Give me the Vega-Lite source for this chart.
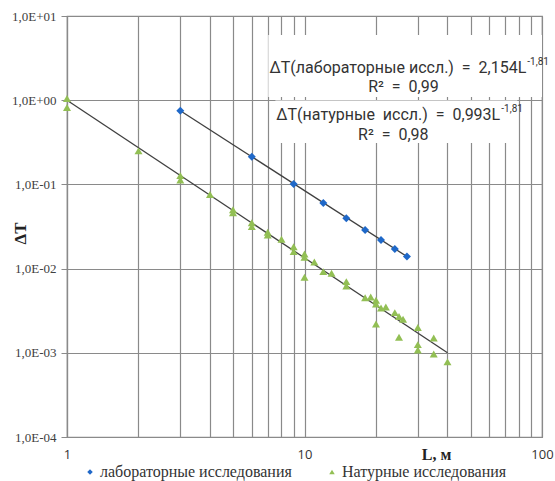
{
  "$schema": "https://vega.github.io/schema/vega-lite/v6.json",
  "width": 475,
  "height": 421,
  "autosize": {"type": "none"},
  "padding": {"left": 67, "top": 16, "right": 13, "bottom": 44},
  "background": "white",
  "config": {
    "view": {"stroke": "#8a8a8a", "strokeWidth": 1.2},
    "axis": {"gridColor": "#8a8a8a", "gridWidth": 1.2, "gridOpacity": 1, "domainColor": "#8a8a8a", "domainWidth": 1.2, "tickColor": "#8a8a8a"},
    "legend": {"labelFont": "Liberation Serif", "labelFontSize": 16, "labelColor": "#333333", "labelLimit": 0}
  },
  "datasets": {
    "pts": [
      {"L": 3, "dT": 0.75, "series": "лабораторные исследования"},
      {"L": 6, "dT": 0.213, "series": "лабораторные исследования"},
      {"L": 9, "dT": 0.101, "series": "лабораторные исследования"},
      {"L": 12, "dT": 0.06, "series": "лабораторные исследования"},
      {"L": 15, "dT": 0.0395, "series": "лабораторные исследования"},
      {"L": 18, "dT": 0.0287, "series": "лабораторные исследования"},
      {"L": 21, "dT": 0.0219, "series": "лабораторные исследования"},
      {"L": 24, "dT": 0.0171, "series": "лабораторные исследования"},
      {"L": 27, "dT": 0.0139, "series": "лабораторные исследования"},
      {"L": 1, "dT": 1.05, "series": "Натурные исследования"},
      {"L": 1, "dT": 0.82, "series": "Натурные исследования"},
      {"L": 2, "dT": 0.25, "series": "Натурные исследования"},
      {"L": 3, "dT": 0.127, "series": "Натурные исследования"},
      {"L": 3, "dT": 0.113, "series": "Натурные исследования"},
      {"L": 4, "dT": 0.076, "series": "Натурные исследования"},
      {"L": 5, "dT": 0.05, "series": "Натурные исследования"},
      {"L": 5, "dT": 0.046, "series": "Натурные исследования"},
      {"L": 6, "dT": 0.035, "series": "Натурные исследования"},
      {"L": 6, "dT": 0.0315, "series": "Натурные исследования"},
      {"L": 7, "dT": 0.027, "series": "Натурные исследования"},
      {"L": 7, "dT": 0.025, "series": "Натурные исследования"},
      {"L": 8, "dT": 0.0223, "series": "Натурные исследования"},
      {"L": 9, "dT": 0.0182, "series": "Натурные исследования"},
      {"L": 9, "dT": 0.0159, "series": "Натурные исследования"},
      {"L": 10, "dT": 0.0149, "series": "Натурные исследования"},
      {"L": 10, "dT": 0.0136, "series": "Натурные исследования"},
      {"L": 10, "dT": 0.0079, "series": "Натурные исследования"},
      {"L": 11, "dT": 0.012, "series": "Натурные исследования"},
      {"L": 12, "dT": 0.0092, "series": "Натурные исследования"},
      {"L": 13, "dT": 0.0088, "series": "Натурные исследования"},
      {"L": 15, "dT": 0.007, "series": "Натурные исследования"},
      {"L": 15, "dT": 0.0062, "series": "Натурные исследования"},
      {"L": 18, "dT": 0.0045, "series": "Натурные исследования"},
      {"L": 19, "dT": 0.0046, "series": "Натурные исследования"},
      {"L": 20, "dT": 0.0042, "series": "Натурные исследования"},
      {"L": 20, "dT": 0.0038, "series": "Натурные исследования"},
      {"L": 20, "dT": 0.0022, "series": "Натурные исследования"},
      {"L": 21, "dT": 0.0034, "series": "Натурные исследования"},
      {"L": 22, "dT": 0.0035, "series": "Натурные исследования"},
      {"L": 24, "dT": 0.003, "series": "Натурные исследования"},
      {"L": 25, "dT": 0.0027, "series": "Натурные исследования"},
      {"L": 25, "dT": 0.00153, "series": "Натурные исследования"},
      {"L": 26, "dT": 0.0025, "series": "Натурные исследования"},
      {"L": 30, "dT": 0.002, "series": "Натурные исследования"},
      {"L": 30, "dT": 0.00125, "series": "Натурные исследования"},
      {"L": 30, "dT": 0.00108, "series": "Натурные исследования"},
      {"L": 35, "dT": 0.0015, "series": "Натурные исследования"},
      {"L": 35, "dT": 0.00097, "series": "Натурные исследования"},
      {"L": 40, "dT": 0.00078, "series": "Натурные исследования"}
    ],
    "fit": [
      {"L": 3, "dT": 0.75, "series": "lab"},
      {"L": 27, "dT": 0.0139, "series": "lab"},
      {"L": 1, "dT": 1.0, "series": "nat"},
      {"L": 40, "dT": 0.001, "series": "nat"}
    ],
    "boxes": [
      {"L": 7.04, "L2": 100, "dT": 5.95, "dT2": 1.09},
      {"L": 7.54, "L2": 78.7, "dT": 0.992, "dT2": 0.31}
    ],
    "eq": [
      {"L": 85.9, "dT": 2.41, "label": "ΔT(лабораторные иссл.) \u00a0=\u00a0 2,154L"},
      {"L": 66.7, "dT": 0.667, "label": "ΔT(натурные \u00a0иссл.) \u00a0=\u00a0 0,993L"}
    ],
    "sup": [
      {"L": 86.7, "dT": 2.84, "label": "-1,81"},
      {"L": 67.4, "dT": 0.786, "label": "-1,81"}
    ],
    "r2": [
      {"L": 26.1, "dT": 1.435, "label": "R² \u00a0=\u00a0 0,99"},
      {"L": 23.66, "dT": 0.386, "label": "R² \u00a0=\u00a0 0,98"}
    ]
  },
  "encoding": {
    "x": {
      "field": "L", "type": "quantitative",
      "scale": {"type": "log", "domain": [1, 100], "nice": false},
      "axis": {
        "values": [1, 2, 3, 4, 5, 6, 7, 8, 9, 10, 20, 30, 40, 50, 60, 70, 80, 90, 100],
        "labelExpr": "datum.value == 1 || datum.value == 10 || datum.value == 100 ? toString(datum.value) : ''",
        "labelOverlap": false, "labelFlush": false, "labelBound": false,
        "ticks": false, "labelPadding": 11,
        "labelFont": "Open Sans", "labelFontSize": 13, "labelColor": "#333333",
        "title": "L, м", "titleFont": "Liberation Serif", "titleFontSize": 16, "titleFontWeight": "bold", "titleColor": "#222222",
        "titleX": 369, "titleY": 17, "titleAlign": "center", "titleBaseline": "middle"
      }
    },
    "y": {
      "field": "dT", "type": "quantitative",
      "scale": {"type": "log", "domain": [0.0001, 10], "nice": false},
      "axis": {
        "values": [0.0001, 0.001, 0.01, 0.1, 1, 10],
        "labelExpr": "'1,0E' + (datum.value >= 1 ? '+' : '-') + '0' + abs(round(log(datum.value) / LN10))",
        "tickSize": 6, "labelPadding": 5,
        "labelFont": "Liberation Serif", "labelFontSize": 13, "labelColor": "#404040",
        "title": "ΔT", "titleFont": "Liberation Serif", "titleFontSize": 17, "titleFontWeight": "bold", "titleColor": "#222222",
        "titleX": -47, "titleY": 217, "titleAlign": "center", "titleBaseline": "middle"
      }
    }
  },
  "layer": [
    {
      "data": {"name": "fit"},
      "mark": {"type": "line", "color": "#404040", "strokeWidth": 1.3},
      "encoding": {"detail": {"field": "series"}}
    },
    {
      "data": {"name": "pts"},
      "mark": {"type": "point", "filled": true, "opacity": 1, "size": 64},
      "encoding": {
        "color": {
          "field": "series", "type": "nominal",
          "scale": {"domain": ["лабораторные исследования", "Натурные исследования"], "range": ["#1f68c8", "#92bf54"]},
          "legend": {
            "title": null, "orient": "none", "direction": "horizontal",
            "legendX": 15, "legendY": 448,
            "labelFont": "Liberation Serif", "labelFontSize": 16, "labelColor": "#333333", "labelLimit": 0,
            "symbolSize": 30, "labelOffset": 2, "columnPadding": 32
          }
        },
        "shape": {
          "field": "series", "type": "nominal",
          "scale": {"domain": ["лабораторные исследования", "Натурные исследования"], "range": ["diamond", "triangle-up"]},
          "legend": null
        }
      }
    },
    {
      "data": {"name": "boxes"},
      "mark": {"type": "rect", "fill": "white", "stroke": null},
      "encoding": {"x2": {"field": "L2"}, "y2": {"field": "dT2"}}
    },
    {
      "data": {"name": "eq"},
      "mark": {"type": "text", "align": "right", "baseline": "middle", "font": "Roboto", "fontSize": 16, "color": "#333333"},
      "encoding": {"text": {"field": "label"}}
    },
    {
      "data": {"name": "sup"},
      "mark": {"type": "text", "align": "left", "baseline": "middle", "font": "Roboto", "fontSize": 10, "color": "#333333"},
      "encoding": {"text": {"field": "label"}}
    },
    {
      "data": {"name": "r2"},
      "mark": {"type": "text", "align": "center", "baseline": "middle", "font": "Roboto", "fontSize": 16, "color": "#333333"},
      "encoding": {"text": {"field": "label"}}
    }
  ]
}
